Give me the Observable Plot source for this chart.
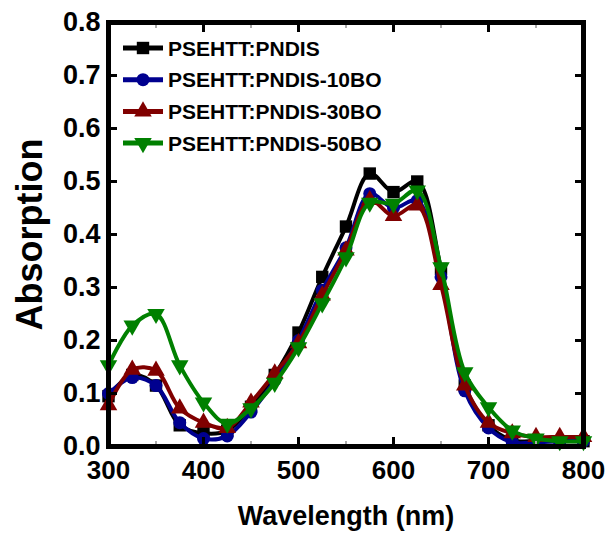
<!DOCTYPE html>
<html>
<head>
<meta charset="utf-8">
<script src="https://cdn.jsdelivr.net/npm/d3@7"></script>
<script src="https://cdn.jsdelivr.net/npm/@observablehq/plot@0.6"></script>
<style>
  html, body { margin: 0; padding: 0; background: #fff; }
  #chart { width: 608px; height: 536px; }
</style>
</head>
<body>
<div id="chart"></div>
<script>
const wavelength = [300,325,350,375,400,425,450,475,500,525,550,575,600,625,650,675,700,725,750,775,800];
const seriesNames = ["PSEHTT:PNDIS","PSEHTT:PNDIS-10BO","PSEHTT:PNDIS-30BO","PSEHTT:PNDIS-50BO"];
const pndis   = [0.095,0.135,0.115,0.040,0.025,0.030,0.075,0.135,0.215,0.320,0.415,0.515,0.480,0.500,0.335,0.115,0.040,0.012,0.010,0.010,0.010];
const bo10    = [0.100,0.130,0.115,0.045,0.015,0.020,0.065,0.125,0.200,0.295,0.375,0.477,0.450,0.464,0.320,0.105,0.035,0.008,0.008,0.010,0.010];
const bo30    = [0.078,0.145,0.143,0.072,0.045,0.035,0.083,0.138,0.195,0.285,0.370,0.465,0.435,0.455,0.305,0.115,0.045,0.025,0.018,0.018,0.018];
const bo50    = [0.153,0.228,0.250,0.153,0.083,0.043,0.072,0.120,0.187,0.270,0.357,0.460,0.458,0.483,0.338,0.140,0.074,0.030,0.015,0.010,0.010];
const colors  = ["#000000","#00008f","#800000","#008000"];
const symbols = ["square","circle","triangle","triangle"];
const rotations = [0,0,0,180];
const radii = [7,6.5,6.5,6.5];
const xMajor = [300,400,500,600,700,800];
const xMinor = [350,450,550,650,750];
const yMajor = [0,0.1,0.2,0.3,0.4,0.5,0.6,0.7,0.8];
const yTickLabels = ["0.0","0.1","0.2","0.3","0.4","0.5","0.6","0.7","0.8"];

const values = [pndis, bo10, bo30, bo50];
const rows = [];
values.forEach((arr, si) => arr.forEach((v, i) => rows.push({series: seriesNames[si], si, wl: wavelength[i], a: v})));

const font = "'Liberation Sans', Arial, Helvetica, sans-serif";
const marks = [];
seriesNames.forEach((name, si) => {
  const d = rows.filter(r => r.si === si);
  marks.push(Plot.line(d, {x: "wl", y: "a", stroke: colors[si], strokeWidth: 4, curve: "catmull-rom"}));
  marks.push(Plot.dot(d, {x: "wl", y: "a", fill: colors[si], stroke: "none", symbol: symbols[si], r: radii[si], rotate: rotations[si]}));
});

const chart = Plot.plot({
  width: 608,
  height: 536,
  marginLeft: 108,
  marginRight: 25,
  marginTop: 22,
  marginBottom: 90,
  style: {fontFamily: font, fontWeight: "bold", background: "#fff", color: "#000"},
  x: {domain: [300, 800], label: null},
  y: {domain: [0, 0.8], label: null},
  marks: [
    ...marks,
    // inward major/minor ticks on all four sides
    Plot.axisX(xMajor, {anchor: "bottom", tickSize: -9, tickFormat: () => "", strokeWidth: 3, label: null}),
    Plot.axisX(xMajor, {anchor: "top", tickSize: -9, tickFormat: () => "", strokeWidth: 3, label: null}),
    Plot.axisX(xMinor, {anchor: "bottom", tickSize: -5, tickFormat: () => "", strokeWidth: 2, stroke: "#aaa", label: null}),
    Plot.axisX(xMinor, {anchor: "top", tickSize: -5, tickFormat: () => "", strokeWidth: 2, stroke: "#aaa", label: null}),
    Plot.axisY(yMajor, {anchor: "left", tickSize: -9, tickFormat: () => "", strokeWidth: 3, label: null}),
    Plot.axisY(yMajor, {anchor: "right", tickSize: -9, tickFormat: () => "", strokeWidth: 3, label: null}),
    // tick labels
    Plot.axisX(xMajor, {anchor: "bottom", tickSize: 0, tickPadding: 14, fontSize: 26, fontWeight: "bold", label: null, tickFormat: d => String(d)}),
    Plot.axisY(yMajor, {anchor: "left", tickSize: 0, tickPadding: 8, fontSize: 27, fontWeight: "bold", label: null, tickFormat: (d, i) => yTickLabels[i]}),
    Plot.frame({stroke: "#000", strokeWidth: 5}),
    Plot.text(["Wavelength (nm)"], {frameAnchor: "bottom", dy: 70, fontSize: 27, fontWeight: "bold", lineAnchor: "middle", textAnchor: "middle"}),
    Plot.text(["Absorption"], {frameAnchor: "left", dx: -78, rotate: -90, fontSize: 36, fontWeight: "bold", lineAnchor: "middle", textAnchor: "middle"})
  ]
});

// legend drawn inside the plot frame
const svg = d3.select(chart);
const lg = svg.append("g").attr("font-family", font).attr("font-weight", "bold").attr("font-size", 21).attr("text-anchor", "start");
const sym = {square: d3.symbolSquare, circle: d3.symbolCircle, triangle: d3.symbolTriangle};
seriesNames.forEach((name, si) => {
  const y = 48 + si * 31.7;
  lg.append("line").attr("x1", 123).attr("x2", 163).attr("y1", y).attr("y2", y)
    .attr("stroke", colors[si]).attr("stroke-width", 5);
  lg.append("path").attr("d", d3.symbol(sym[symbols[si]], Math.PI * radii[si] * radii[si])())
    .attr("transform", `translate(143,${y}) rotate(${rotations[si]})`)
    .attr("fill", colors[si]);
  lg.append("text").attr("x", 168).attr("y", y).attr("dy", "0.36em").attr("text-anchor", "start").attr("fill", "#000").text(name);
});

document.getElementById("chart").appendChild(chart);
</script>
</body>
</html>
